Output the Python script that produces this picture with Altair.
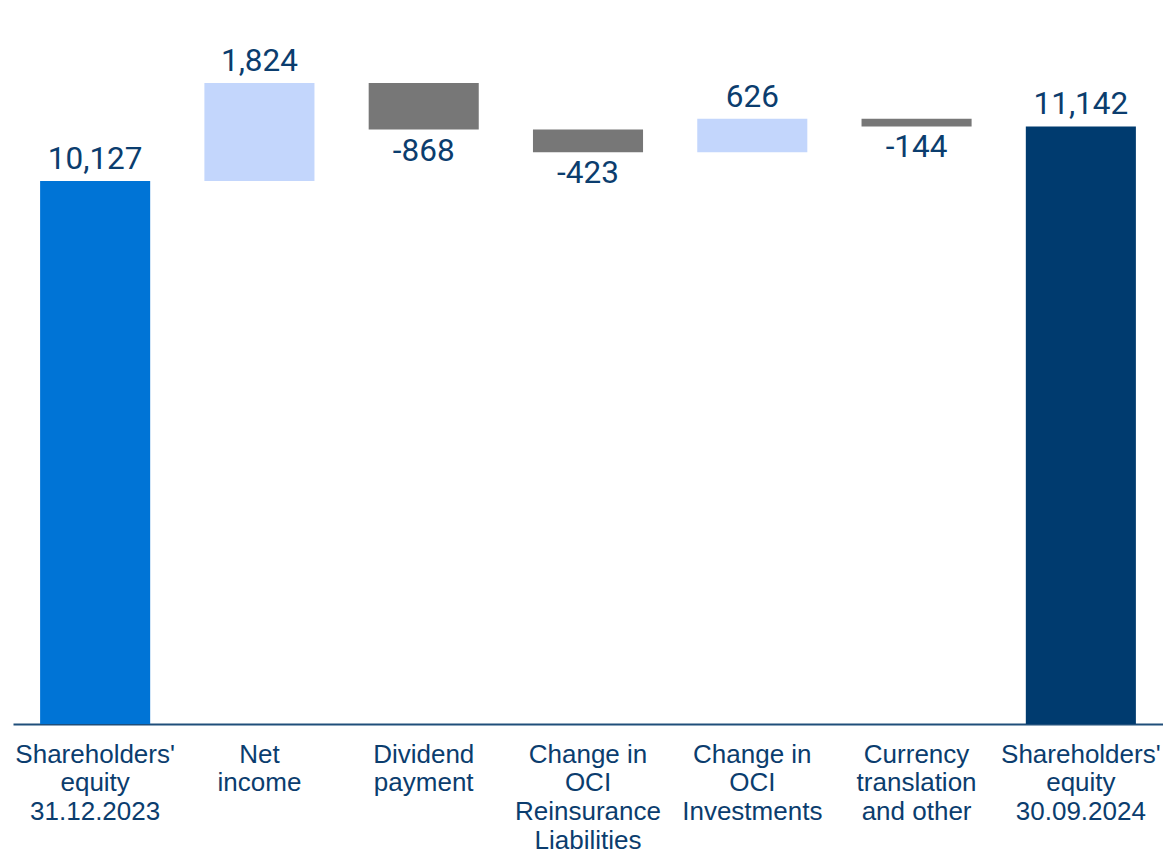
import altair as alt
import pandas as pd
import json

categories = ["Shareholders' equity 31.12.2023", "Net income", "Dividend payment",
              "Change in OCI Reinsurance Liabilities", "Change in OCI Investments",
              "Currency translation and other", "Shareholders' equity 30.09.2024"]
label_lines = [["Shareholders'", "equity", "31.12.2023"], ["Net", "income"], ["Dividend", "payment"],
               ["Change in", "OCI", "Reinsurance", "Liabilities"], ["Change in", "OCI", "Investments"],
               ["Currency", "translation", "and other"], ["Shareholders'", "equity", "30.09.2024"]]
values = [10127, 1824, -868, -423, 626, -144, 11142]
kinds = ["start", "delta", "delta", "delta", "delta", "delta", "end"]
labels = ["10,127", "1,824", "-868", "-423", "626", "-144", "11,142"]

rows = []
running = 0
for c, v, k, lab in zip(categories, values, kinds, labels):
    if k in ("start", "end"):
        y0, y1 = 0, v
        running = v
        typ = k
    else:
        y0 = running
        y1 = running + v
        running = y1
        typ = "pos" if v >= 0 else "neg"
    rows.append({"cat": c, "y0": y0, "y1": y1, "top": max(y0, y1), "bot": min(y0, y1),
                 "typ": typ, "label": lab})
df = pd.DataFrame(rows)

label_map = {c: l for c, l in zip(categories, label_lines)}
label_expr = json.dumps(label_map) + "[datum.value]"

text_color = "#0b3d6e"

x = alt.X("cat:N", sort=categories, title=None,
          scale=alt.Scale(paddingInner=0.33, paddingOuter=0.165),
          axis=alt.Axis(labelExpr=label_expr))
yscale = alt.Scale(domain=[0, 13500])

base = alt.Chart(df)
bars = base.mark_bar().encode(
    x=x,
    y=alt.Y("y0:Q", scale=yscale, axis=None),
    y2="y1:Q",
    color=alt.Color("typ:N", scale=alt.Scale(domain=["start", "pos", "neg", "end"],
                                             range=["#0074d6", "#c3d6fc", "#777777", "#003b6f"]),
                    legend=None),
)
pos_text = base.transform_filter("datum.typ != 'neg'").mark_text(
    font="Roboto", fontSize=31.5, color=text_color, baseline="alphabetic", dy=-12
).encode(x=alt.X("cat:N", sort=categories), y=alt.Y("top:Q", scale=yscale), text="label:N")
neg_text = base.transform_filter("datum.typ == 'neg'").mark_text(
    font="Roboto", fontSize=31.5, color=text_color, baseline="alphabetic", dy=31
).encode(x=alt.X("cat:N", sort=categories), y=alt.Y("bot:Q", scale=yscale), text="label:N")

chart = alt.layer(bars, pos_text, neg_text).properties(
    width=1150, height=724,
    autosize=alt.AutoSizeParams(type="none"),
    padding={"left": 13, "top": 0, "right": 0, "bottom": 131},
).configure(background="white").configure_view(stroke=None).configure_axisX(
    labelAngle=0, labelFont="Liberation Sans", labelFontSize=26, labelColor=text_color,
    labelLineHeight=28.7, labelPadding=17, ticks=False, domainColor="#1f4e7a", domainWidth=2,
    labelBaseline="top", grid=False
)

chart.save("out.html", embed_options={"renderer": "svg", "actions": False})
